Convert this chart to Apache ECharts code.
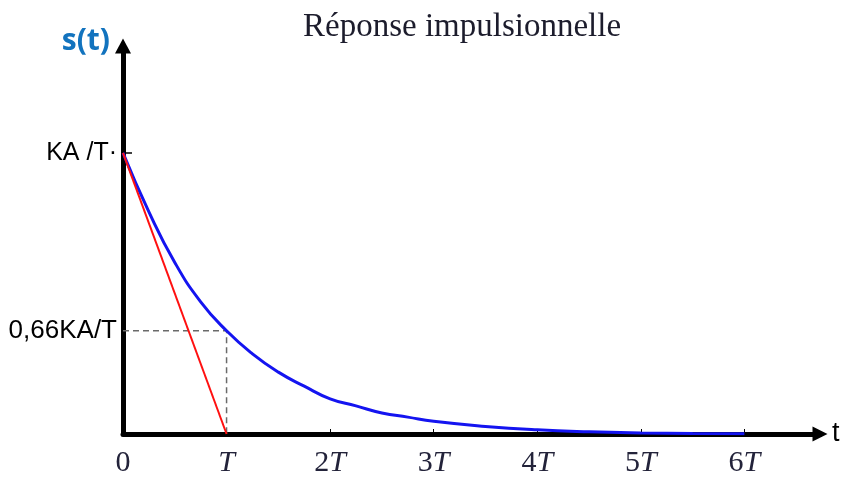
<!DOCTYPE html>
<html>
<head>
<meta charset="utf-8">
<script src="https://cdn.jsdelivr.net/npm/echarts@6/dist/echarts.min.js"></script>
<style>
  html, body { margin: 0; padding: 0; background: #fff; }
  #chart { width: 843px; height: 478px; }
</style>
</head>
<body>
<div id="chart"></div>
<script>
// t in units of T, s(t) in units of KA/T
const tValues = [0, 0.25, 0.5, 0.75, 1, 1.25, 1.5, 1.75, 2, 2.25, 2.5, 2.75, 3, 3.5, 4, 4.5, 5, 5.5, 6];
const blueValues = [1.0, 0.79, 0.61, 0.47, 0.367, 0.285, 0.22, 0.17, 0.125, 0.1, 0.075, 0.06, 0.045, 0.027, 0.015, 0.008, 0.004, 0.002, 0.001];
const redT = [0, 1];
const redValues = [1, 0];
const guideT = [0, 1, 1];
const guideValues = [0.367, 0.367, 0];
const xTicks = [0, 1, 2, 3, 4, 5, 6];
const yTicks = [0.367, 1];
const yTickLabels = ['0,66KA/T', 'KA /T\u00b7'];

const zip = (a, b) => a.map((v, i) => [v, b[i]]);

const chart = echarts.init(document.getElementById('chart'));
chart.setOption({
  animation: false,
  title: {
    text: 'Réponse impulsionnelle',
    left: 298,
    top: 6,
    textStyle: {
      fontFamily: 'Liberation Serif',
      fontSize: 33,
      fontWeight: 'normal',
      color: '#1c1c2c'
    }
  },
  grid: { left: 123, right: 23, top: 46, bottom: 44 },
  xAxis: {
    type: 'value',
    min: 0,
    max: 6.73,
    name: 't',
    nameLocation: 'end',
    nameGap: 12,
    nameTextStyle: { fontFamily: 'Liberation Sans', fontSize: 27, color: '#000' },
    axisLine: {
      lineStyle: { color: '#000', width: 5 },
      symbol: ['none', 'triangle'],
      symbolSize: [15, 15]
    },
    axisTick: {
      customValues: xTicks.slice(1),
      inside: true,
      length: 5,
      lineStyle: { color: '#000', width: 1 }
    },
    axisLabel: {
      customValues: xTicks,
      margin: 14,
      formatter(v) {
        if (v === 0) return '{n|0}';
        if (v === 1) return '{i|T}';
        return '{n|' + v + '}{i|T}';
      },
      rich: {
        n: { fontFamily: 'Liberation Serif', fontSize: 30, color: '#23233a' },
        i: { fontFamily: 'Liberation Serif', fontSize: 30, fontStyle: 'italic', color: '#23233a' }
      }
    },
    splitLine: { show: false }
  },
  yAxis: {
    type: 'value',
    min: 0,
    max: 1.38,
    name: 's(t)',
    nameLocation: 'end',
    nameGap: 5,
    nameTextStyle: {
      fontFamily: 'Open Sans',
      fontSize: 30,
      fontWeight: 'bold',
      color: '#1273be',
      align: 'right',
      verticalAlign: 'middle',
      padding: [0, 13, 0, 0]
    },
    axisLine: {
      lineStyle: { color: '#000', width: 5 },
      symbol: ['none', 'triangle'],
      symbolSize: [16, 15]
    },
    axisTick: {
      customValues: [1],
      inside: true,
      length: 9,
      lineStyle: { color: '#000', width: 1.5 }
    },
    axisLabel: {
      customValues: yTicks,
      margin: 6,
      fontFamily: 'Liberation Sans',
      color: '#000',
      formatter(v) {
        const i = yTicks.indexOf(v);
        return i === 0 ? '{b|' + yTickLabels[i] + '}' : '{a|' + yTickLabels[i] + '}';
      },
      rich: {
        a: { fontFamily: 'Liberation Sans', fontSize: 25, color: '#000' },
        b: { fontFamily: 'Liberation Sans', fontSize: 26, color: '#000' }
      }
    },
    splitLine: { show: false }
  },
  series: [
    {
      type: 'line',
      data: zip(guideT, guideValues),
      showSymbol: false,
      z: 1,
      lineStyle: { color: '#6a6a6a', width: 1.5, type: [6, 4] }
    },
    {
      type: 'line',
      data: zip(tValues, blueValues),
      smooth: true,
      showSymbol: false,
      z: 3,
      lineStyle: { color: '#1414f0', width: 3 }
    },
    {
      type: 'line',
      data: zip(redT, redValues),
      showSymbol: false,
      z: 4,
      lineStyle: { color: '#ff1010', width: 2 }
    }
  ]
});
</script>
</body>
</html>
